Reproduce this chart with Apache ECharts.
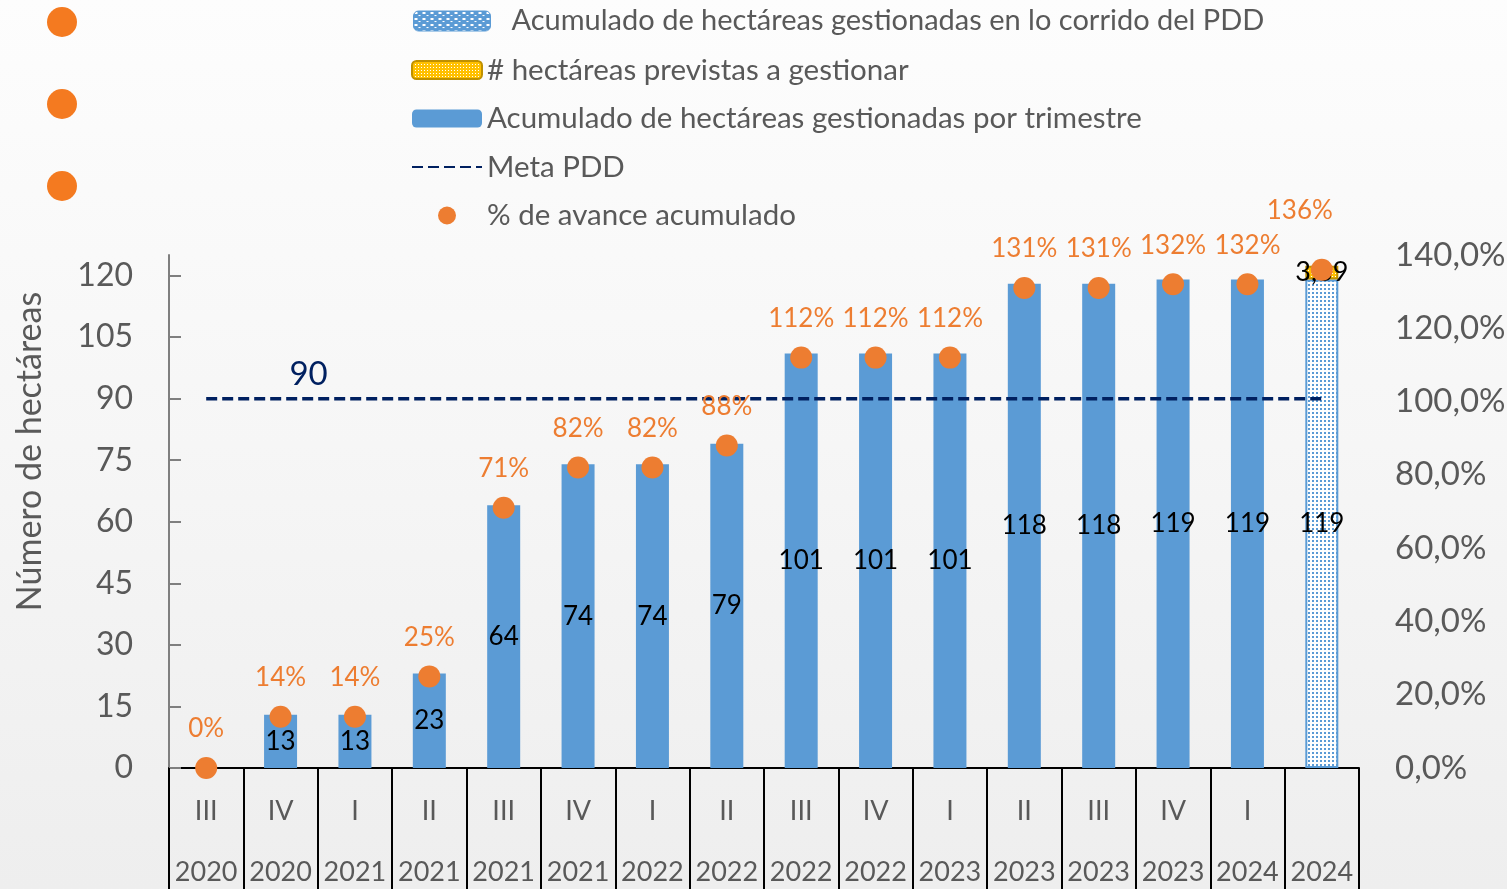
<!DOCTYPE html>
<html>
<head>
<meta charset="utf-8">
<script src="https://cdn.jsdelivr.net/npm/echarts@6/dist/echarts.min.js"></script>
<style>
html,body{margin:0;padding:0;width:1507px;height:889px;overflow:hidden;background:#f4f4f4;}
#c{width:1507px;height:889px;}
</style>
</head>
<body>
<div id="c"></div>
<script>
// ---- data ----
const quarters = ['III','IV','I','II','III','IV','I','II','III','IV','I','II','III','IV','I',''];
const years = ['2020','2020','2021','2021','2021','2021','2022','2022','2022','2022','2023','2023','2023','2023','2024','2024'];
const hectTrimestre = [0,13,13,23,64,74,74,79,101,101,101,118,118,119,119,null];
const hectCorrido = [null,null,null,null,null,null,null,null,null,null,null,null,null,null,null,119];
const hectPrevistas = [null,null,null,null,null,null,null,null,null,null,null,null,null,null,null,3.39];
const metaPDD = [90,90,90,90,90,90,90,90,90,90,90,90,90,90,90,90];
const metaLabelIndex = 1;
const avance = [0,0.14,0.14,0.25,0.71,0.82,0.82,0.88,1.12,1.12,1.12,1.31,1.31,1.32,1.32,1.36];
const leftTicks = [0,15,30,45,60,75,90,105,120];

const names = {
  corrido: 'Acumulado de hectáreas gestionadas en lo corrido del PDD',
  previstas: '# hectáreas previstas a gestionar',
  trimestre: 'Acumulado de hectáreas gestionadas por trimestre',
  meta: 'Meta PDD',
  avance: '% de avance acumulado'
};

function pattern(w, h, bg, fg, dots) {
  const cv = document.createElement('canvas');
  cv.width = w; cv.height = h;
  const ctx = cv.getContext('2d');
  ctx.fillStyle = bg; ctx.fillRect(0, 0, w, h);
  ctx.fillStyle = fg;
  dots.forEach(d => ctx.fillRect(d[0], d[1], d[2], d[3]));
  return {image: cv, repeat: 'repeat'};
}
const blueDots = pattern(4, 4, '#ffffff', '#5B9BD5', [[0,0,2,2]]);
const blueLegend = pattern(8, 6, '#5B9BD5', '#ffffff', [[1,1,3,2],[5,4,2,1]]);
const yellowDots = pattern(3, 3, '#FFC000', '#ffffff', [[0,0,1,1]]);

const FONT = 'Lato';
const GRAY = '#595959';

const chart = echarts.init(document.getElementById('c'));
chart.setOption({
  backgroundColor: {
    type: 'linear', x: 0, y: 0, x2: 0, y2: 1,
    colorStops: [{offset: 0, color: '#fdfdfd'}, {offset: 0.5, color: '#f6f6f6'}, {offset: 1, color: '#eeeeee'}]
  },
  textStyle: {fontFamily: FONT},
  animation: false,
  graphic: [
    {type: 'circle', shape: {cx: 62, cy: 22, r: 15}, style: {fill: '#F47A20'}},
    {type: 'circle', shape: {cx: 62, cy: 104, r: 15}, style: {fill: '#F47A20'}},
    {type: 'circle', shape: {cx: 62, cy: 186, r: 15}, style: {fill: '#F47A20'}}
  ],
  legend: [
    {
      data: [{name: names.corrido, itemStyle: {color: blueLegend, borderColor: '#5B9BD5', borderWidth: 1}}],
      left: 413, top: 6, padding: 0, itemWidth: 77, itemHeight: 20,
      textStyle: {fontFamily: FONT, fontSize: 29, color: GRAY, padding: [0,0,0,16], lineHeight: 30}
    },
    {
      data: [
        {name: names.previstas},
        {name: names.trimestre},
        {name: names.meta, itemStyle: {opacity: 0}},
        {name: names.avance}
      ],
      orient: 'vertical', left: 411, top: 55, padding: 0, itemWidth: 70, itemHeight: 18, itemGap: 18.5,
      textStyle: {fontFamily: FONT, fontSize: 29.5, color: GRAY, lineHeight: 30}
    }
  ],
  grid: {left: 169, right: 148, top: 255, bottom: 121, containLabel: false, outerBoundsMode: 'none'},
  xAxis: {
    type: 'category',
    data: quarters.map((q, i) => q + '\n' + years[i]),
    axisLine: {lineStyle: {color: '#000', width: 2}},
    axisTick: {show: true, length: 125, lineStyle: {color: '#000', width: 2}},
    axisLabel: {
      interval: 0, margin: 13, color: GRAY, fontFamily: FONT, fontSize: 27, lineHeight: 61
    }
  },
  yAxis: [
    {
      type: 'value', min: 0, max: 125,
      name: 'Número de hectáreas', nameLocation: 'middle', nameRotate: 90, nameGap: 122,
      nameTextStyle: {fontFamily: FONT, fontSize: 34, color: GRAY, padding: [0, 0, 0, 120]},
      axisLine: {show: true, lineStyle: {color: '#7f7f7f', width: 2}},
      axisTick: {show: true, inside: true, length: 12, lineStyle: {color: '#7f7f7f', width: 2}, customValues: leftTicks},
      axisLabel: {color: GRAY, fontFamily: FONT, fontSize: 32, margin: 36, customValues: leftTicks},
      splitLine: {show: false}
    },
    {
      type: 'value', min: 0, max: 1.4, interval: 0.2, position: 'right',
      axisLine: {show: false}, axisTick: {show: false},
      axisLabel: {
        color: GRAY, fontFamily: FONT, fontSize: 33, margin: 36,
        formatter: v => (v * 100).toFixed(1).replace('.', ',') + '%'
      },
      splitLine: {show: false}
    }
  ],
  series: [
    {
      name: names.trimestre, type: 'bar', stack: 'h', barWidth: 33,
      data: hectTrimestre,
      itemStyle: {color: '#5B9BD5'},
      label: {show: true, position: 'inside', color: '#000', fontFamily: FONT, fontSize: 26,
        formatter: p => p.value ? String(p.value) : ''}
    },
    {
      name: names.corrido, type: 'bar', stack: 'h', barWidth: 33,
      data: hectCorrido,
      itemStyle: {color: blueDots, borderColor: '#5B9BD5', borderWidth: 2},
      label: {show: true, position: 'inside', color: '#000', fontFamily: FONT, fontSize: 26}
    },
    {
      name: names.previstas, type: 'bar', stack: 'h', barWidth: 33,
      data: hectPrevistas,
      itemStyle: {color: yellowDots, borderColor: '#BF9000', borderWidth: 2},
      label: {show: true, position: 'inside', color: '#000', fontFamily: FONT, fontSize: 27,
        formatter: p => String(p.value).replace('.', ',')}
    },
    {
      name: names.meta, type: 'line', data: metaPDD,
      symbol: 'none', showSymbol: false,
      lineStyle: {color: '#002060', width: 3.5, type: [11, 5]},
      itemStyle: {color: '#002060'},
      markPoint: {
        symbol: 'circle', symbolSize: 0,
        data: [{coord: [metaLabelIndex, metaPDD[metaLabelIndex]], value: metaPDD[metaLabelIndex]}],
        label: {show: true, position: 'top', distance: 8, offset: [28, 0],
          color: '#002060', fontFamily: FONT, fontSize: 33, formatter: '{c}'}
      },
      z: 3
    },
    {
      name: names.avance, type: 'scatter', yAxisIndex: 1, symbolSize: 22,
      data: avance.map((v, i) => i === avance.length - 1 ? {value: v, label: {offset: [-22, -20]}} : v),
      itemStyle: {color: '#ED7D31', opacity: 1},
      label: {show: true, position: 'top', distance: 15, color: '#ED7D31', fontFamily: FONT, fontSize: 26,
        formatter: p => Math.round(p.value * 100) + '%'},
      z: 5
    }
  ]
});
</script>
</body>
</html>
